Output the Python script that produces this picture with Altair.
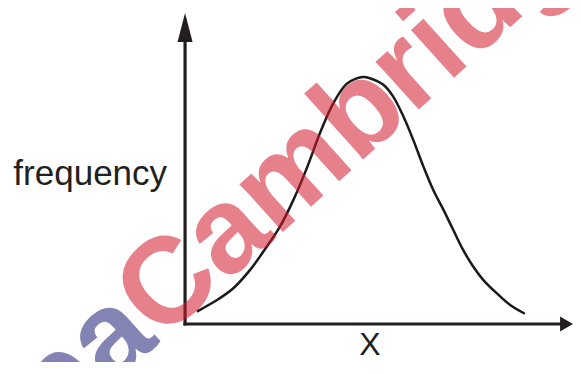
import altair as alt
import pandas as pd

# ---- data ----
curve_x = [0.29, 0.78, 1.18, 1.59, 2.00, 2.32, 2.65, 2.98, 3.30, 3.63, 3.95, 4.18, 4.35,
           4.52, 4.85, 5.09, 5.34, 5.58, 5.83, 6.07, 6.32, 6.56, 6.80, 7.05, 7.29, 7.62,
           7.95, 8.31]
curve_y = [0.40, 0.77, 1.15, 1.74, 2.49, 3.13, 3.99, 5.02, 6.14, 7.11, 7.72, 7.89, 7.94,
           7.90, 7.69, 7.31, 6.67, 5.92, 5.06, 4.31, 3.67, 3.02, 2.38, 1.84, 1.42, 0.99,
           0.61, 0.33]

axis_x_end = [9.33]        # X axis arrow head (centre)
axis_y_end = [9.53]        # frequency axis arrow head (centre)
y_label = ["frequency"]
x_label = ["X"]
y_label_pos = [-0.44, 4.47]
x_label_pos = [4.52, -1.0]
wm_left = ["Papa"]
wm_right = ["Cambridge"]
wm_pos = [-0.60, -0.58]

X_DOMAIN = [-4.33, 9.487]
Y_DOMAIN = [-1.222, 10.16]

xs = alt.Scale(domain=X_DOMAIN, nice=False, zero=False)
ys = alt.Scale(domain=Y_DOMAIN, nice=False, zero=False)

curve_df = pd.DataFrame({"x": curve_x, "y": curve_y})
axes_df = pd.DataFrame({
    "x": [0, 0], "y": [0, 0],
    "x2": [0, axis_x_end[0]], "y2": [axis_y_end[0], 0],
})
up_df = pd.DataFrame({"x": [0], "y": axis_y_end})
right_df = pd.DataFrame({"x": axis_x_end, "y": [0]})
ylab_df = pd.DataFrame({"x": [y_label_pos[0]], "y": [y_label_pos[1]], "t": y_label})
xlab_df = pd.DataFrame({"x": [x_label_pos[0]], "y": [x_label_pos[1]], "t": x_label})
wm1_df = pd.DataFrame({"x": [wm_pos[0]], "y": [wm_pos[1]], "t": wm_left})
wm2_df = pd.DataFrame({"x": [wm_pos[0]], "y": [wm_pos[1]], "t": wm_right})

X = lambda f="x": alt.X(f"{f}:Q", scale=xs, axis=None)
Y = lambda f="y": alt.Y(f"{f}:Q", scale=ys, axis=None)

ink = "#231f20"

axes = alt.Chart(axes_df).mark_rule(color=ink, strokeWidth=3.2, strokeCap="square").encode(
    x=X(), y=Y(), x2="x2:Q", y2="y2:Q")

arrow_up = alt.Chart(up_df).mark_point(
    shape="M0,-1L0.52,1L-0.52,1Z", filled=True, color=ink, opacity=1, size=841, strokeWidth=0
).encode(x=X(), y=Y())

arrow_right = alt.Chart(right_df).mark_point(
    shape="M0.87,0L-0.87,-1L-0.87,1Z", filled=True, color=ink, opacity=1, size=225, strokeWidth=0
).encode(x=X(), y=Y())

curve = alt.Chart(curve_df).mark_line(
    color="#1a1a1a", strokeWidth=2.5, interpolate="catmull-rom"
).encode(x=X(), y=Y(), order="x:Q")

ylab = alt.Chart(ylab_df).mark_text(
    font="Liberation Sans", fontSize=35, color=ink, align="right", baseline="alphabetic"
).encode(x=X(), y=Y(), text="t:N")

xlab = alt.Chart(xlab_df).mark_text(
    font="Liberation Sans", fontSize=32, color=ink, align="center", baseline="alphabetic"
).encode(x=X(), y=Y(), text="t:N")

wm1 = alt.Chart(wm1_df).mark_text(
    font="Liberation Sans", fontSize=122, fontWeight="bold", color="#212178", opacity=0.55,
    align="right", baseline="alphabetic", angle=318
).encode(x=X(), y=Y(), text="t:N")

wm2 = alt.Chart(wm2_df).mark_text(
    font="Liberation Sans", fontSize=122, fontWeight="bold", color="#d21a2c", opacity=0.55,
    align="left", baseline="alphabetic", angle=318
).encode(x=X(), y=Y(), text="t:N")

chart = alt.layer(axes, arrow_up, arrow_right, curve, ylab, xlab, wm1, wm2).properties(
    width=565, height=354, padding=0,
    autosize=alt.AutoSizeParams(type="none"),
).configure_view(stroke=None)

chart.save("out.html", embed_options={"renderer": "svg", "actions": False})
